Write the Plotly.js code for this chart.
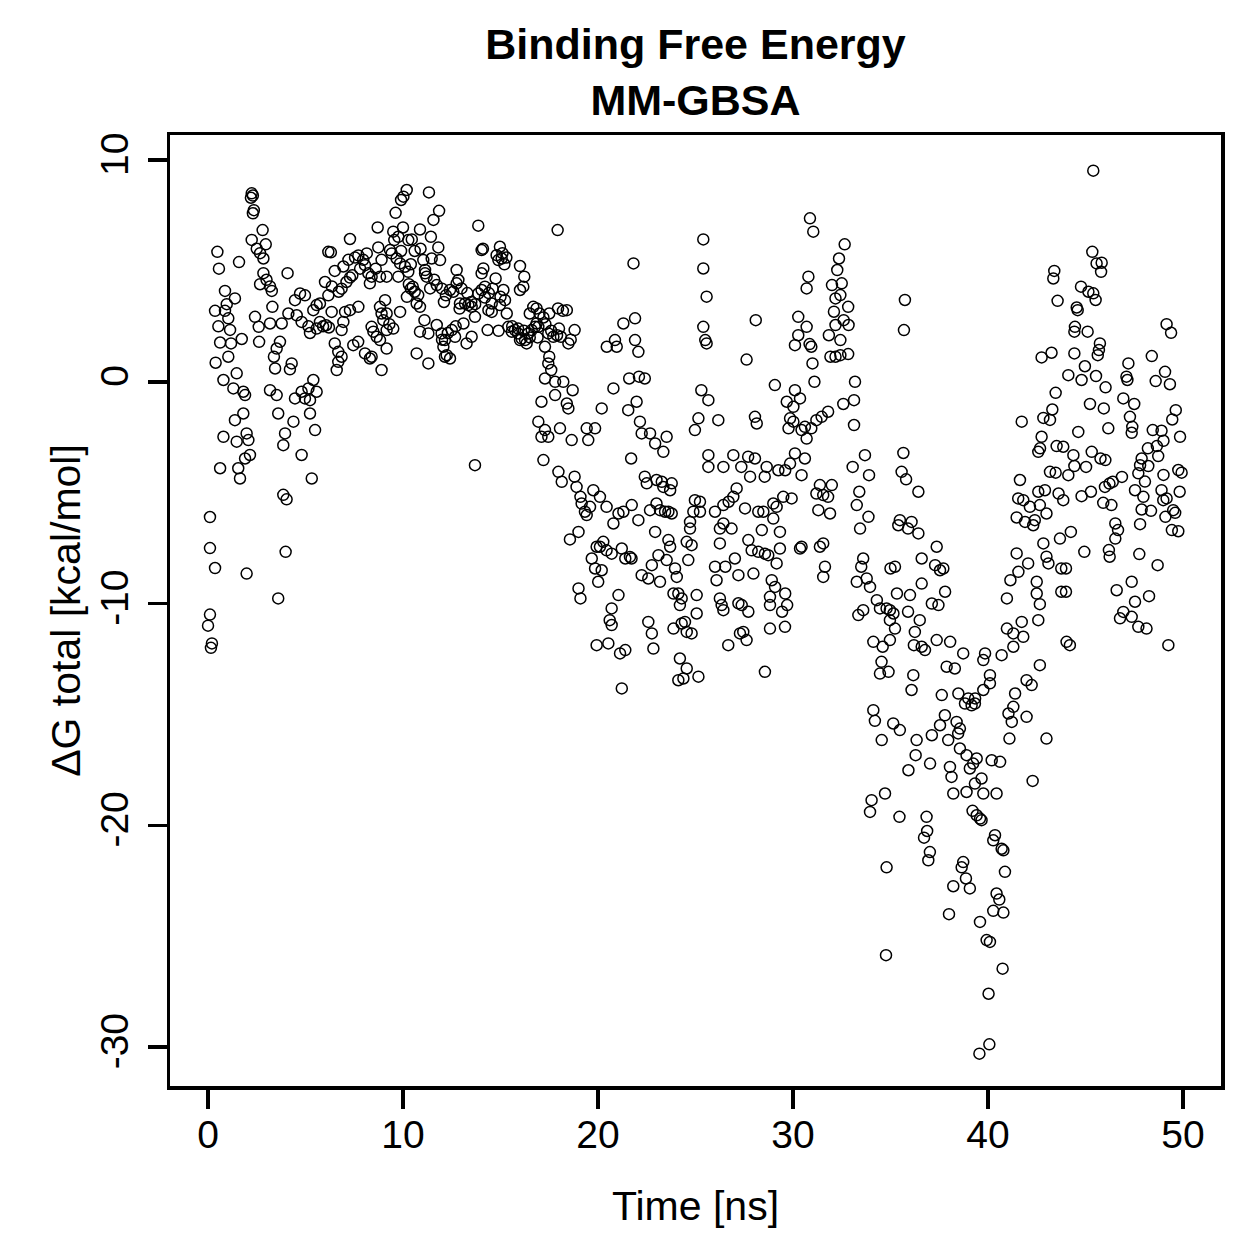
<!DOCTYPE html>
<html>
<head>
<meta charset="utf-8">
<script src="https://cdn.plot.ly/plotly-3.0.1.min.js"></script>
<style>html,body{margin:0;padding:0;background:#fff;}#chart{width:1259px;height:1259px;}</style>
</head>
<body>
<div id="chart"></div>
<script>
// Each point: [time (ns), ΔG total (kcal/mol)]
const seg0to8ns = [
[0.0,-11.0],[0.1,-10.5],[0.15,-12.0],[0.2,-11.8],[0.1,-6.1],[0.1,-7.5],[0.36,-8.4],[0.48,5.86],[0.56,5.1],[0.87,4.1],[0.36,3.2],[0.87,3.2],[0.96,3.5],[0.53,2.5],[0.62,1.77],[0.39,0.86],[0.79,0.08],[0.79,-2.48],[0.62,-3.9],[1.38,3.76],[1.04,2.86],[1.13,2.34],[1.18,1.73],[1.04,1.13],[1.47,0.38],[1.3,-0.3],[1.38,-1.73],[1.47,-2.7],[1.55,-3.9],[1.64,-4.36],[1.59,5.4],[1.73,1.93],[1.81,-0.45],[1.9,-0.6],[1.81,-1.43],[1.98,-2.33],[2.07,-2.63],[1.9,-3.46],[2.15,-3.3],[1.98,-8.65],
[2.24,8.5],[2.3,8.4],[2.2,8.3],[2.35,7.74],[2.3,7.6],[2.8,6.84],[2.24,6.4],[2.96,6.2],[2.5,6.0],[2.67,5.8],[2.84,5.56],[2.84,4.9],[2.67,4.4],[3.0,4.6],[3.18,4.3],[3.27,4.1],[3.3,3.38],[2.41,2.93],[2.6,2.48],[3.18,2.63],[2.62,1.8],[3.78,2.63],[3.69,1.8],[3.52,1.5],[3.38,1.13],[3.44,0.6],[3.18,-0.38],[3.52,-0.6],[3.6,-1.43],[3.95,-2.33],[3.86,-2.86],[3.86,-5.1],[4.03,-5.3],[3.98,-7.67],[3.6,-9.77],[4.08,4.9],[4.29,0.83],[4.2,0.56],[4.12,3.08],[4.38,-1.8],[4.46,3.68],[4.55,3.0],[4.72,3.98],[4.97,3.9],[4.46,-0.75],[4.97,-0.75],[5.15,-0.3],[5.4,0.08],[5.57,-0.45],[4.8,-0.45],[5.23,-0.83],[5.23,-1.43],[5.49,-2.18],[4.8,-3.3],[5.32,-4.36],
[6.17,5.86],[6.3,5.84],[7.28,6.44],[6.5,5.0],[6.94,5.2],[7.2,5.5],[7.54,5.6],[7.71,5.7],[7.96,5.5],[7.8,5.1],[7.4,4.8],[6.0,4.5],[6.35,4.3],[6.7,4.06],[6.85,4.2],[7.1,4.5],[7.28,4.7],[6.17,3.9],[5.74,3.53],[5.57,3.46],[5.4,3.23],[6.34,3.15],[7.03,3.15],[7.28,3.23],[7.71,3.38],[6.94,2.7],[6.85,2.33],[5.74,2.7],[5.9,2.5],[6.05,2.55],[6.2,2.45],[5.15,2.5],[5.23,2.2],[5.57,2.4],[4.8,2.7],[6.5,1.73],[6.68,1.35],[6.85,1.13],[6.68,0.9],[6.6,0.53],[7.45,1.65],[7.7,1.8]
];
const seg8to17ns = [
[10.19,8.65],[10.02,8.35],[9.9,8.2],[11.33,8.54],[9.62,7.62],[11.85,7.71],[11.56,7.3],[8.7,6.96],[13.86,7.04],[9.5,6.77],[10.0,6.96],[10.87,6.87],[10.45,6.42],[10.27,6.39],[9.76,6.54],[9.55,6.39],[11.43,6.54],[11.81,6.06],[11.47,5.56],[11.9,5.49],[11.04,5.49],[11.13,5.04],[8.73,6.06],[8.14,5.79],[8.05,5.26],[8.22,4.89],[8.39,4.74],[8.3,4.44],[8.82,4.74],[9.16,4.74],[9.33,5.94],[9.42,5.79],[9.67,5.56],[9.85,5.34],[10.1,5.19],[10.27,4.96],[9.76,4.74],[10.5,4.29],[10.6,4.06],[10.78,3.91],[10.7,3.53],[10.87,3.38],[10.2,3.83],[11.73,4.36],[11.39,4.21],[11.21,4.74],[11.13,4.89],[12.75,5.04],[12.84,4.59],[12.75,4.44],[12.41,4.14],[12.58,4.06],[13.0,4.21],[12.92,3.53],[13.18,3.53],[13.35,3.46],[13.52,3.38],[13.69,2.93],[13.86,3.98],[14.03,4.14],[14.2,4.29],[14.03,4.89],[14.12,5.11],[14.03,5.94],[14.1,6.0],[14.75,4.66],[14.97,6.09],[14.8,5.71],[15.06,5.56],[14.89,5.49],[15.15,4.14],[15.0,3.83],[14.55,3.53],[14.38,3.23],[14.55,3.15],[14.97,3.46],[15.23,3.68],[16.0,5.22],[16.22,4.74],[16.17,4.29],[16.0,4.14],[16.68,3.38],[16.5,3.08],[14.34,2.33],[15.32,3.08],[15.4,2.48],[15.58,2.26],[15.74,2.33],[15.9,2.18],[16.08,1.95],[16.26,1.88],[16.43,2.18],[16.6,2.33],[16.77,2.48],[16.34,1.73],[16.0,1.88],[9.08,3.68],[8.82,3.38],[8.9,3.08],[9.16,3.08],[8.99,2.78],[9.85,3.15],[8.39,2.48],[8.48,2.26],[8.65,2.03],[8.82,1.88],[9.16,2.33],[9.16,1.5],[8.39,1.13],[8.3,1.05],[8.9,0.53],[8.05,1.28],[11.1,2.78],[10.87,2.26],[11.3,2.18],[11.73,2.56],[11.98,2.18],[12.15,1.88],[12.07,1.58],[12.24,1.2],[12.41,1.05],[12.15,1.13],[12.5,2.33],[12.67,2.03],[13.1,2.63],[13.26,1.73],[13.52,2.03],[10.7,1.28],[11.3,0.83],[13.69,-3.76],
[13.5,3.6],[13.7,3.5],[14.2,3.8],[14.4,4.0],[14.6,4.2],[15.2,5.3],[15.3,5.6],[15.1,5.8],[15.9,2.4],[16.2,2.3],[12.9,3.3],[12.3,2.2],[12.0,1.9],[9.3,2.6],[9.5,2.4],[10.3,4.4],[10.4,4.2],[9.9,5.9],[10.6,5.9],[10.4,5.3],[10.9,6.0],[11.6,4.6],[12.0,4.2],[12.2,3.9],[12.1,3.6],[13.3,4.0],[12.7,2.5],[14.9,2.3],[15.6,2.5],[16.5,2.0],[16.9,2.0],[8.6,5.1],[8.9,5.5]
];
const seg17to26ns = [
[17.93,6.84],[21.82,5.34],[25.4,6.42],[25.4,5.11],[25.57,3.84],[25.4,2.48],[25.5,1.88],[25.57,1.73],
[16.85,3.31],[17.0,3.08],[17.5,3.08],[17.95,3.31],[18.4,3.23],[16.85,2.63],[16.94,2.48],[17.45,2.18],[17.71,2.03],[17.9,2.1],[18.1,2.03],[18.48,1.73],[18.8,2.33],[17.28,1.58],[17.5,1.13],[17.45,0.83],[17.6,0.53],[17.28,0.15],[17.8,0.0],[18.22,0.0],[18.7,-0.38],[17.1,-0.9],[17.8,-0.6],[18.4,-0.98],[18.48,-1.2],[20.19,-1.2],[20.79,-0.3],[16.94,-1.8],[17.28,-2.18],[17.1,-2.48],[17.45,-2.48],[18.05,-2.1],[18.65,-2.63],[19.42,-2.1],[19.5,-2.63],[19.85,-2.1],[17.2,-3.53],
[17.2,2.9],[17.6,2.3],[18.0,2.4],[18.2,3.2],[17.3,2.6],[18.6,1.9],
[20.45,1.58],[20.87,1.88],[20.96,1.58],[21.3,2.63],[21.9,2.86],[21.9,1.88],[22.07,1.35],[21.6,0.15],[22.1,0.23],[22.4,0.15],[21.55,-1.28],[21.98,-0.9],[22.15,-1.8],[22.24,-2.33],[22.67,-2.33],[22.93,-2.78],[23.35,-3.16],[23.52,-2.48],[21.7,-3.46],[22.4,-4.28],[22.5,-4.58],[23.0,-4.43],[23.27,-4.51],[23.35,-4.74],[23.78,-4.58],[23.7,-4.89],
[25.15,-1.65],[24.97,-2.18],[25.3,-0.38],[25.66,-0.83],[25.66,-3.31],[25.66,-3.84],
[17.97,-4.06],[18.14,-4.51],[18.8,-4.28],[18.9,-4.74],[19.1,-5.19],[19.16,-5.49],[19.33,-5.86],[19.42,-6.01],[19.59,-5.64],[19.76,-4.89],[20.1,-5.19],[20.44,-5.64],[20.79,-6.39],[21.05,-5.94],[21.3,-5.86],[21.73,-5.56],[22.07,-6.24],[22.67,-5.79],[23.0,-5.49],[23.18,-5.79],[23.44,-5.86],[23.61,-5.86],[23.78,-5.94],[22.93,-6.77],[23.61,-7.14],[23.7,-7.44],[23.52,-8.04],[23.1,-7.82],[22.76,-8.27],[24.63,-8.04],[24.55,-7.22],[24.8,-7.37],[24.72,-6.32],[24.72,-6.62],[24.97,-5.34],[25.23,-5.41],[25.23,-5.86],[24.89,-5.86],
[18.56,-7.11],[19.0,-6.77],[19.93,-7.44],[20.1,-7.44],[20.27,-7.22],[20.44,-7.6],[20.7,-7.75],[21.22,-7.52],[21.4,-7.97],[21.64,-7.9],[21.72,-7.97],[19.68,-7.97],[19.85,-8.42],[20.19,-8.5],[20.01,-9.02],[19.0,-9.32],[19.1,-9.77],[20.7,-10.22],[21.05,-9.62],[20.6,-10.75],[20.7,-10.97],[22.24,-8.72],[22.58,-8.87],[23.18,-9.02],[23.95,-8.42],[24.04,-8.8],[23.87,-9.55],[24.12,-9.55],[24.29,-9.77],[24.2,-10.07],[24.46,-10.83],[24.29,-10.9],[24.55,-11.28],[24.8,-11.35],[25.06,-9.62],[25.06,-10.45],[23.87,-11.13],[22.58,-10.83],[22.76,-11.35],[19.93,-11.88],[20.53,-11.8],[21.13,-12.25],[21.4,-12.1],[22.84,-12.03],[24.2,-12.48],[24.55,-12.93],[24.12,-13.46],[24.38,-13.38],[25.15,-13.3],[21.22,-13.83]
];
const seg26to33ns = [
[30.87,7.37],[31.04,6.77],[32.65,6.2],[32.36,5.56],[32.27,5.04],[32.0,4.36],[32.5,4.44],[32.43,3.91],[32.18,3.76],[32.83,3.38],[32.1,3.16],[32.6,2.78],[32.85,2.56],[32.18,2.56],[31.84,2.1],[32.43,1.88],[31.92,1.13],[32.18,1.13],[32.43,1.2],[32.83,1.25],[30.79,4.74],[30.7,4.21],[28.09,2.78],[27.62,1.0],[30.27,2.93],[30.7,2.48],[30.27,2.1],[30.1,1.65],[30.85,1.7],[30.94,1.58],[31.0,0.83],[31.1,0.0],
[29.07,-0.15],[30.1,-0.38],[30.36,-0.75],[29.68,-0.9],[30.02,-1.13],[29.85,-1.65],[30.02,-1.8],[29.77,-2.1],[30.44,-2.18],[30.61,-2.03],[30.7,-2.56],[30.94,-2.1],[31.2,-1.73],[31.47,-1.58],[31.8,-1.35],[32.58,-1.0],[28.05,-1.58],[28.14,-1.88],[26.17,-1.73],
[26.43,-3.84],[26.94,-3.31],[27.35,-3.84],[27.7,-3.38],[28.05,-3.46],[27.8,-4.28],[28.55,-4.28],[28.65,-3.84],[29.25,-3.99],[29.6,-3.99],[29.85,-3.69],[30.1,-3.23],[30.44,-4.21],[30.61,-3.46],[27.11,-4.81],[26.94,-5.19],[26.7,-5.41],[26.43,-5.56],[26.0,-5.86],[27.54,-5.71],[28.22,-5.86],[28.48,-5.86],[28.99,-5.49],[29.16,-5.64],[29.5,-5.19],[29.93,-5.26],[28.99,-6.17],[29.33,-6.77],[28.4,-6.69],[27.71,-7.14],[27.88,-7.6],[28.22,-7.67],[28.56,-7.75],[28.73,-7.82],[29.33,-7.52],[29.16,-8.19],[26.25,-7.29],[26.85,-6.62],[26.43,-6.39],[26.25,-6.62],[27.02,-7.97],[26.53,-8.34],[26.0,-8.34],[27.2,-8.72],[26.08,-8.95],[27.97,-8.65],[28.91,-8.95],[29.08,-9.25],[29.6,-9.55],[29.7,-10.07],[29.44,-10.37],[28.82,-9.7],[28.82,-10.07],[27.71,-10.37],[27.2,-9.99],[27.37,-10.07],[26.25,-9.77],[26.43,-10.3],[26.34,-10.07],[27.28,-11.35],[27.45,-11.28],[27.62,-11.65],[26.68,-11.88],[28.82,-11.13],[29.59,-11.05],[28.56,-13.08],
[31.38,-4.66],[31.99,-4.66],[31.2,-5.04],[31.55,-5.11],[31.8,-5.19],[31.9,-5.94],[31.3,-5.79],[31.55,-7.29],[31.38,-7.44],[31.64,-8.34],[31.55,-8.8],[30.36,-7.52],[30.44,-7.44]
];
const seg33to43ns = [
[35.74,3.69],[35.69,2.33],[41.73,-1.8],[42.75,-2.48],
[41.64,-4.43],[41.55,-5.26],[41.81,-5.34],[42.15,-5.64],[41.47,-6.12],[41.9,-6.32],[42.32,-6.47],[41.47,-7.74],[42.06,-8.19],[41.56,-8.57],[41.15,-8.95],[40.97,-9.77],[42.58,-10.75],[41.73,-10.83],[40.97,-11.13],[41.3,-11.35],[41.81,-11.5],[41.3,-11.95],[40.7,-12.33],[39.85,-12.25],[39.76,-12.55],[40.1,-13.6],[39.76,-13.9],[41.39,-14.06],[41.98,-13.46],[42.24,-13.68],
[33.18,0.0],[33.13,-0.83],[33.13,-1.95],[33.69,-3.31],[33.06,-3.84],[33.9,-4.21],[33.4,-4.96],[33.27,-5.56],[33.87,-6.09],[33.44,-6.62],[35.66,-3.21],[35.57,-4.06],[35.8,-4.4],[36.43,-4.96],[35.48,-6.24],[35.4,-6.47],[35.9,-6.62],[36.08,-6.32],[36.43,-6.84],[37.37,-7.44],[36.6,-7.97],[37.29,-8.27],[37.54,-8.5],[37.71,-8.42],[36.6,-9.1],[37.8,-9.47],[37.12,-10.0],[37.46,-10.07],[36.0,-9.62],[35.33,-9.55],[35.0,-8.42],[35.23,-8.34],[33.6,-7.97],[33.5,-8.34],[33.27,-9.02],[33.78,-8.87],[33.95,-9.25],[34.3,-9.85],[34.46,-10.22],[34.97,-10.3],[34.8,-10.22],[35.15,-10.45],[35.9,-10.37],[36.5,-10.75],[33.6,-10.3],[33.35,-10.52],[34.97,-10.75],[35.23,-11.13],[36.25,-11.28],[34.12,-11.73],[34.6,-11.95],[34.97,-11.65],[36.2,-11.88],[36.6,-11.95],[36.77,-12.1],[37.37,-11.65],[38.06,-11.73],[38.73,-12.25],[34.54,-12.63],[34.46,-13.16],[34.9,-13.08],[36.17,-13.23],[36.08,-13.9],[37.88,-12.85],[38.3,-12.93],[37.63,-14.13],[38.48,-14.06],[38.99,-14.28],[39.34,-14.28],[40.1,-13.23],
[38.82,-14.51],[39.16,-14.59],[39.33,-14.51],[41.3,-14.66],[41.05,-14.96],[41.22,-15.34],[41.98,-15.11],[41.1,-16.09],[43.0,-16.09],[42.29,-18.0],
[34.12,-14.81],[34.2,-15.29],[35.14,-15.41],[35.48,-15.71],[34.55,-16.16],[36.34,-16.16],[37.79,-15.04],[37.54,-15.49],[37.12,-15.94],[37.96,-16.16],[38.39,-15.34],[38.56,-15.64],[38.47,-15.86],[38.56,-16.54],[38.9,-16.84],[39.42,-16.99],[39.24,-17.22],[39.07,-17.44],[40.19,-17.07],[40.62,-17.14],[39.67,-17.89],[39.33,-18.12],[38.9,-18.5],[38.22,-18.57],[39.76,-18.57],[40.44,-18.57],[38.05,-17.37],[38.13,-17.82],[37.03,-17.22],[36.29,-16.84],[35.92,-17.52],[34.72,-18.57],[34.03,-18.87],[33.95,-19.4],[35.46,-19.62],[36.85,-19.62],[36.88,-20.26],[36.72,-20.56],[37.02,-21.21],[36.94,-21.58],[39.21,-19.35],[39.42,-19.55],[39.59,-19.7],[39.67,-19.77],[40.36,-20.45],[40.27,-20.68],[40.7,-21.06],[40.79,-21.13],[34.8,-21.9],[38.73,-21.66],[38.65,-21.9],[38.87,-22.4],[38.22,-22.75],[39.07,-22.85],[40.87,-22.1],[40.44,-23.08],[40.58,-23.35],[40.27,-23.86],[40.79,-23.94],[38.0,-24.01],[39.59,-24.36],[39.93,-25.18],[40.1,-25.26],[34.77,-25.86],[40.75,-26.47],[40.03,-27.6],[40.07,-29.88],[39.56,-30.3]
];
const seg43to50ns = [
[45.4,9.52],[45.35,5.86],[45.57,5.34],[45.83,5.37],[45.8,4.96],[43.4,5.0],[43.35,4.66],[43.57,3.65],[44.77,4.29],[45.15,4.06],[45.4,3.99],[45.52,3.69],[44.55,3.35],[44.6,3.23],[44.46,2.48],[44.43,2.26],[45.11,2.26],[49.16,2.6],[49.39,2.21],[45.74,1.73],[45.69,1.43],[45.63,1.2],[42.75,1.1],[43.26,1.31],[44.43,1.28],[44.97,0.7],[44.12,0.3],[44.8,0.08],[45.54,0.26],[47.2,0.83],[47.1,0.23],[47.15,0.08],[48.4,1.16],[49.08,0.45],[48.6,0.03],[49.33,-0.11],
[43.47,-0.5],[43.3,-1.25],[42.84,-1.63],[43.18,-1.72],[46.03,-0.25],[45.23,-1.0],[45.94,-1.2],[46.17,-2.1],[46.94,-0.75],[47.5,-1.0],[47.28,-1.58],[47.4,-2.03],[47.37,-2.3],[49.63,-1.28],[49.45,-1.7],[49.85,-2.48],[48.45,-2.18],[48.9,-2.21],[49.0,-2.66],[48.66,-2.9],[48.2,-3.0],[48.73,-3.35],[47.88,-3.46],[47.8,-3.76],[48.22,-3.8],[47.71,-4.13],[49.76,-3.98],[49.93,-4.1],[49.0,-4.2],[48.05,-4.5],[47.54,-4.89],[47.97,-5.19],[48.36,-5.82],[47.88,-5.76],[48.9,-4.89],[49.16,-5.26],[48.99,-5.34],[49.83,-4.96],[49.5,-5.79],[49.6,-5.91],[49.1,-6.09],[49.43,-6.69],[49.76,-6.74],[47.8,-6.42],[48.7,-8.27],[47.76,-7.77],[47.37,-9.02],[46.6,-9.4],[47.54,-9.92],[48.26,-9.67],[46.94,-10.38],[46.77,-10.67],[47.37,-10.6],[47.71,-11.05],[48.13,-11.13],[49.25,-11.88],[44.03,-11.73],[44.2,-11.88],[42.66,-12.78],
[46.87,-4.29],[46.53,-6.39],[46.67,-6.69],[46.53,-7.07],[46.2,-7.59],[46.24,-7.89],[45.91,-5.46],[46.33,-5.56],[46.0,-4.74],[46.23,-4.59],[46.4,-4.51],[45.77,-3.46],[46.02,-3.53],[45.32,-3.16],[45.03,-3.84],[44.8,-5.16],[45.28,-4.96],[44.94,-7.67],[44.25,-6.77],[43.69,-7.07],[42.84,-7.29],[43.0,-7.89],[43.1,-8.19],[43.76,-8.42],[44.0,-8.42],[43.76,-9.47],[44.0,-9.47],[42.5,-9.02],[42.5,-9.55],[42.66,-10.03],
[44.12,-4.21],[44.43,-3.8],[43.86,-2.93],[43.52,-2.9],[44.38,-3.31],[44.63,-2.26],[43.18,-4.06],[43.47,-4.1],[42.58,-3.16],[42.67,-3.0],[42.92,-4.89],[42.58,-4.96],[43.62,-5.04],[43.86,-5.34],[43.0,-5.94],[42.66,-5.56],[42.4,-6.24]
];

const xTickVals = [0, 10, 20, 30, 40, 50];
const xTickText = ['0', '10', '20', '30', '40', '50'];
const yTickVals = [-30, -20, -10, 0, 10];
const yTickText = ['-30', '-20', '-10', '0', '10'];

const allPoints = [].concat(seg0to8ns, seg8to17ns, seg17to26ns, seg26to33ns, seg33to43ns, seg43to50ns);
const timeNs = allPoints.map(p => p[0]);
const dGtotal = allPoints.map(p => p[1]);

const FONT = 'Liberation Sans, Arial, Helvetica, sans-serif';

const trace = {
  type: 'scatter', mode: 'markers',
  x: timeNs, y: dGtotal,
  marker: {symbol: 'circle-open', size: 11, color: 'black', line: {color: 'black', width: 1.5}},
  hoverinfo: 'skip'
};

const axisCommon = {
  showgrid: false, zeroline: false,
  showline: true, linecolor: 'black', linewidth: 3.5, mirror: true,
  ticks: 'outside', ticklen: 19, tickwidth: 3.5, tickcolor: 'black',
  tickfont: {family: FONT, size: 39, color: 'black'},
  tickmode: 'array'
};

const layout = {
  width: 1259, height: 1259,
  margin: {l: 170, r: 38, t: 135, b: 173, pad: 0},
  paper_bgcolor: 'white', plot_bgcolor: 'white',
  showlegend: false,
  font: {family: FONT, color: 'black'},
  title: {
    text: '<b>Binding Free Energy</b><br><b>MM-GBSA</b>',
    font: {family: FONT, size: 43, color: 'black'},
    x: 0.5, xref: 'paper', xanchor: 'center',
    y: 1 - 59 / 1259, yref: 'container', yanchor: 'top'
  },
  xaxis: Object.assign({}, axisCommon, {
    range: [-1.95, 51.95],
    tickvals: xTickVals, ticktext: xTickText,
    ticklabelstandoff: -7,
    title: {text: 'Time [ns]', font: {family: FONT, size: 41, color: 'black'}, standoff: 37}
  }),
  yaxis: Object.assign({}, axisCommon, {
    range: [-31.76, 11.13],
    tickvals: yTickVals, ticktext: yTickText,
    tickangle: -90,
    ticklabelstandoff: 4,
    title: {text: 'ΔG total [kcal/mol]', font: {family: FONT, size: 41, color: 'black'}, standoff: 0}
  })
};

Plotly.newPlot('chart', [trace], layout, {staticPlot: true, displayModeBar: false});
</script>
</body>
</html>
